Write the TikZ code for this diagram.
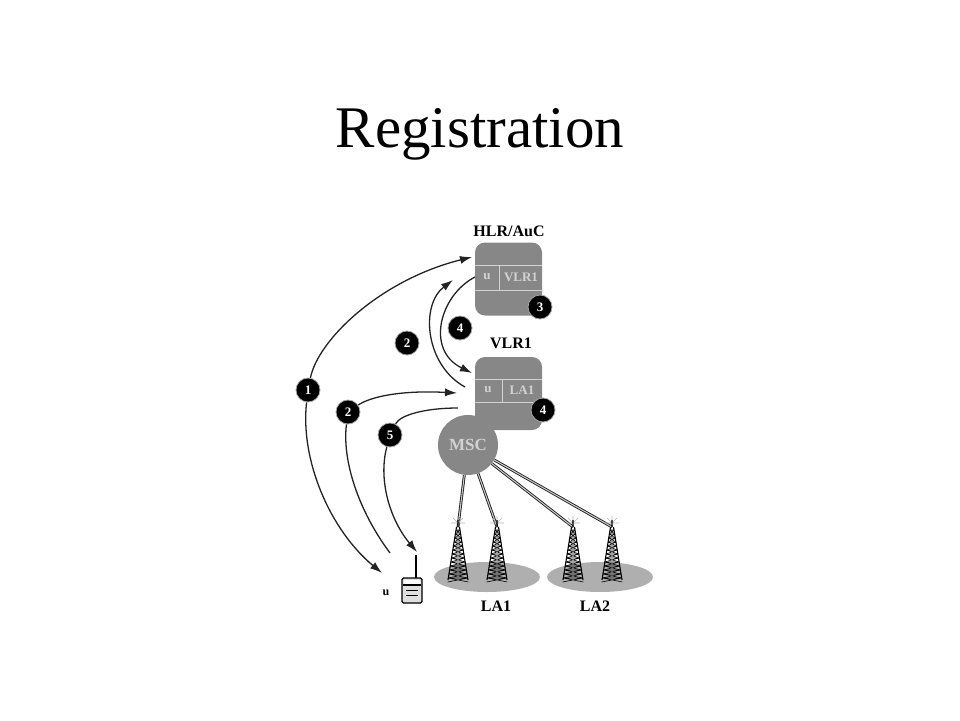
\documentclass[tikz,border=0pt]{standalone}
\usepackage{fontspec}
\setmainfont{Liberation Serif}
\usetikzlibrary{positioning,arrows.meta,shapes.geometric}

\definecolor{boxgray}{RGB}{135,135,135}
\definecolor{cellgray}{RGB}{210,210,210}
\definecolor{lagray}{RGB}{175,175,175}
\definecolor{linegray}{RGB}{35,35,35}

\tikzset{
  >={Latex[length=12pt,width=8pt]},
  numdot/.style={circle,fill=black,draw=gray!70,line width=0.8pt,inner sep=0pt,minimum size=24pt,text=white,font=\fontsize{13}{13}\selectfont\bfseries},
  netbox/.style={rounded corners=10pt,fill=boxgray,minimum width=67pt,minimum height=73pt,inner sep=0pt},
  celltext/.style={text=cellgray,font=\fontsize{13}{13}\selectfont\bfseries,inner sep=0pt},
  lbl/.style={font=\fontsize{16}{16}\selectfont\bfseries,inner sep=0pt},
  flow/.style={draw=linegray,line width=1.3pt},
  link/.style={draw=linegray,line width=0.9pt,double=gray!40,double distance=1pt},
  tower/.pic={
    \draw[gray!60,line width=0.6pt] (0,-4) -- (-5,-9) (0,-4) -- (0,-11) (0,-4) -- (5,-9) (-7,-4) -- (7,-4);
    \draw[black,line width=1.1pt] (-1.5,0) -- (-10,53) (1.5,0) -- (10,53) (0,-7) -- (0,0);
    \foreach \k in {0,...,12} {
      \pgfmathsetmacro{\ya}{4*\k+3}
      \pgfmathsetmacro{\yb}{4*\k+7}
      \pgfmathsetmacro{\wa}{1.5+8.5*\ya/53}
      \pgfmathsetmacro{\wb}{1.5+8.5*\yb/53}
      \draw[black,line width=0.6pt] (-\wa,\ya) -- (\wb,\yb) (\wa,\ya) -- (-\wb,\yb) (-\wa,\ya) -- (\wa,\ya);
    }
  }
}

\begin{document}
\begin{tikzpicture}[x=1pt,y=-1pt]
	\useasboundingbox (0,0) rectangle (960,720);

	\node[anchor=base,inner sep=0pt,font=\fontsize{59}{60}\selectfont] (title) at (480,147) {Registration};

	% HLR and VLR
	\node[lbl] (hlrlbl) at (509,231) {HLR/AuC};
	\node[netbox] (hlr) at (508.5,279) {};
	\draw[cellgray,line width=1pt] (475,265) -- (542,265) (475,290) -- (542,290) (499,265) -- (499,290);
	\node[celltext] (hlru) at (487,277) {u};
	\node[celltext] (hlrv) at (521,277) {VLR1};

	\node[lbl] (vlrlbl) at (511,343) {VLR1};
	\node[netbox] (vlr) at (508.5,393.5) {};
	\draw[cellgray,line width=1pt] (475,379) -- (542,379) (475,402) -- (542,402) (502,379) -- (502,402);
	\node[celltext] (vlru) at (488,390) {u};
	\node[celltext] (vlrla) at (522,390) {LA1};

	\node[circle,fill=boxgray,minimum size=60pt,inner sep=0pt,text=cellgray,font=\fontsize{17}{17}\selectfont\bfseries] (msc) at (468,445) {MSC};

	% location areas
	\node[ellipse,fill=lagray,minimum width=106pt,minimum height=30pt] (la1zone) at (487,577) {};
	\node[ellipse,fill=lagray,minimum width=106pt,minimum height=30pt] (la2zone) at (600,577) {};
	\node[lbl] (la1lbl) at (496,606) {LA1};
	\node[lbl] (la2lbl) at (595,606) {LA2};

	\coordinate (t1) at (458,527);
	\coordinate (t2) at (497,527);
	\coordinate (t3) at (573,527);
	\coordinate (t4) at (612,527);
	\draw[link] (msc) -- (t1);
	\draw[link] (msc) -- (t2);
	\draw[link] (msc) -- (t3);
	\draw[link] (msc) -- (t4);
	\foreach \t in {t1,t2,t3,t4}
		\pic at (\t) {tower};

	% mobile
	\node[draw=black,fill=gray!25,line width=1.3pt,rounded corners=1.5pt,minimum width=20pt,minimum height=25pt,inner sep=0pt] (ms) at (412,590.5) {};
	\draw[black,line width=1.3pt] (416,578) -- (416,555);
	\fill[white] (404,580) rectangle (420,584);
	\draw[black,line width=1.1pt] (403,585) -- (421,585);
	\draw[black,line width=0.8pt] (406,590) -- (418,590) (406,595) -- (418,595);
	\node[lbl,font=\fontsize{12}{12}\selectfont\bfseries] (mslbl) at (386,593) {u};

	% step markers
	\node[numdot] (n1) at (308,390) {1};
	\node[numdot] (n2b) at (348,412) {2};
	\node[numdot] (n5) at (390,435) {5};
	\node[numdot] (n2a) at (407,343) {2};
	\node[numdot] (n4a) at (460,328) {4};
	\node[numdot] (n3) at (540,307) {3};
	\node[numdot] (n4b) at (543,410) {4};

	% message flows
	\coordinate (a1top) at (472,257);
	\coordinate (a1bot) at (382,573);
	\coordinate (a2low) at (390,553);
	\coordinate (a2tip) at (457,393);
	\coordinate (a2up) at (465,387);
	\coordinate (a2hlr) at (453,280);
	\coordinate (a4start) at (475,277);
	\coordinate (a4tip) at (472,373);
	\coordinate (a5start) at (458,408);
	\coordinate (a5tip) at (417,552);

	\draw[flow,->] (n1) .. controls (318,340) and (380,280) .. (a1top);
	\draw[flow,->] (n1) .. controls (300,460) and (330,530) .. (a1bot);
	\draw[flow,->] (a2low) .. controls (358,510) and (342,460) .. (n2b) .. controls (370,397) and (400,390) .. (a2tip);
	\draw[flow,->] (a2up) .. controls (425,365) and (420,305) .. (a2hlr);
	\draw[flow,->] (a4start) .. controls (440,295) and (425,350) .. (a4tip);
	\draw[flow,->] (a5start) .. controls (425,408) and (400,415) .. (n5) .. controls (378,480) and (390,520) .. (a5tip);
\end{tikzpicture}
\end{document}
